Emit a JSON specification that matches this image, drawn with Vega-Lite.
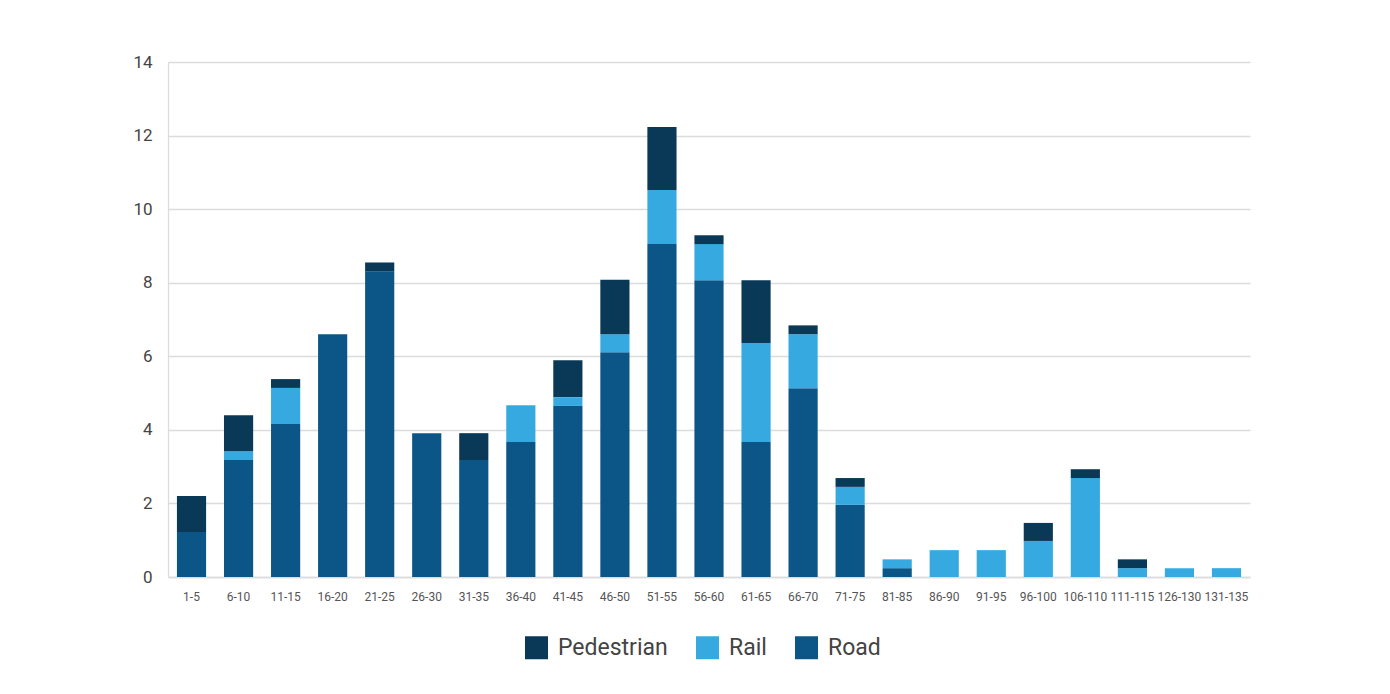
{
  "$schema": "https://vega.github.io/schema/vega-lite/v6.json",
  "width": 1082,
  "height": 515,
  "autosize": {"type": "none"},
  "padding": {"left": 168, "top": 62, "right": 140, "bottom": 117},
  "background": "white",
  "config": {
    "font": "Roboto",
    "view": {"stroke": null},
    "axis": {"labelColor": "#444444", "ticks": false, "gridColor": "#dcdcdc", "gridWidth": 1.3}
  },
  "data": {
    "values": [
      {"age": "1-5", "mode": "Road", "pct": 1.22},
      {"age": "1-5", "mode": "Pedestrian", "pct": 0.98},
      {"age": "6-10", "mode": "Road", "pct": 3.18},
      {"age": "6-10", "mode": "Rail", "pct": 0.24},
      {"age": "6-10", "mode": "Pedestrian", "pct": 0.98},
      {"age": "11-15", "mode": "Road", "pct": 4.16},
      {"age": "11-15", "mode": "Rail", "pct": 0.98},
      {"age": "11-15", "mode": "Pedestrian", "pct": 0.24},
      {"age": "16-20", "mode": "Road", "pct": 6.6},
      {"age": "21-25", "mode": "Road", "pct": 8.31},
      {"age": "21-25", "mode": "Pedestrian", "pct": 0.24},
      {"age": "26-30", "mode": "Road", "pct": 3.91},
      {"age": "31-35", "mode": "Road", "pct": 3.18},
      {"age": "31-35", "mode": "Pedestrian", "pct": 0.73},
      {"age": "36-40", "mode": "Road", "pct": 3.67},
      {"age": "36-40", "mode": "Rail", "pct": 1.0},
      {"age": "41-45", "mode": "Road", "pct": 4.65},
      {"age": "41-45", "mode": "Rail", "pct": 0.24},
      {"age": "41-45", "mode": "Pedestrian", "pct": 1.0},
      {"age": "46-50", "mode": "Road", "pct": 6.11},
      {"age": "46-50", "mode": "Rail", "pct": 0.49},
      {"age": "46-50", "mode": "Pedestrian", "pct": 1.48},
      {"age": "51-55", "mode": "Road", "pct": 9.05},
      {"age": "51-55", "mode": "Rail", "pct": 1.47},
      {"age": "51-55", "mode": "Pedestrian", "pct": 1.71},
      {"age": "56-60", "mode": "Road", "pct": 8.07},
      {"age": "56-60", "mode": "Rail", "pct": 0.98},
      {"age": "56-60", "mode": "Pedestrian", "pct": 0.24},
      {"age": "61-65", "mode": "Road", "pct": 3.67},
      {"age": "61-65", "mode": "Rail", "pct": 2.69},
      {"age": "61-65", "mode": "Pedestrian", "pct": 1.71},
      {"age": "66-70", "mode": "Road", "pct": 5.13},
      {"age": "66-70", "mode": "Rail", "pct": 1.47},
      {"age": "66-70", "mode": "Pedestrian", "pct": 0.24},
      {"age": "71-75", "mode": "Road", "pct": 1.96},
      {"age": "71-75", "mode": "Rail", "pct": 0.49},
      {"age": "71-75", "mode": "Pedestrian", "pct": 0.24},
      {"age": "81-85", "mode": "Road", "pct": 0.24},
      {"age": "81-85", "mode": "Rail", "pct": 0.24},
      {"age": "86-90", "mode": "Rail", "pct": 0.73},
      {"age": "91-95", "mode": "Rail", "pct": 0.73},
      {"age": "96-100", "mode": "Rail", "pct": 0.98},
      {"age": "96-100", "mode": "Pedestrian", "pct": 0.49},
      {"age": "106-110", "mode": "Rail", "pct": 2.69},
      {"age": "106-110", "mode": "Pedestrian", "pct": 0.24},
      {"age": "111-115", "mode": "Rail", "pct": 0.24},
      {"age": "111-115", "mode": "Pedestrian", "pct": 0.24},
      {"age": "126-130", "mode": "Rail", "pct": 0.24},
      {"age": "131-135", "mode": "Rail", "pct": 0.24}
    ]
  },
  "mark": {"type": "bar"},
  "encoding": {
    "x": {
      "field": "age",
      "type": "nominal",
      "sort": null,
      "scale": {"paddingInner": 0.38, "paddingOuter": 0.19},
      "axis": {"title": null, "labelAngle": 0, "labelFontSize": 12, "labelPadding": 14, "labelColor": "#555555", "domain": true, "domainColor": "#dcdcdc", "domainWidth": 1.3}
    },
    "y": {
      "field": "pct",
      "type": "quantitative",
      "stack": "zero",
      "scale": {"domain": [0, 14]},
      "axis": {"title": null, "values": [0, 2, 4, 6, 8, 10, 12, 14], "labelFontSize": 17, "labelPadding": 16, "domain": true, "domainColor": "#dcdcdc", "domainWidth": 1.3}
    },
    "color": {
      "field": "mode",
      "type": "nominal",
      "scale": {"domain": ["Pedestrian", "Rail", "Road"], "range": ["#093956", "#36AAE0", "#0B5687"]},
      "legend": {
        "title": null,
        "orient": "none",
        "direction": "horizontal",
        "legendX": 357,
        "legendY": 574,
        "symbolType": "square",
        "symbolSize": 529,
        "symbolStrokeWidth": 0,
        "labelFontSize": 23,
        "labelColor": "#444444",
        "labelOffset": 10,
        "columnPadding": 28
      }
    },
    "order": {"field": "mode", "sort": "descending"}
  }
}
